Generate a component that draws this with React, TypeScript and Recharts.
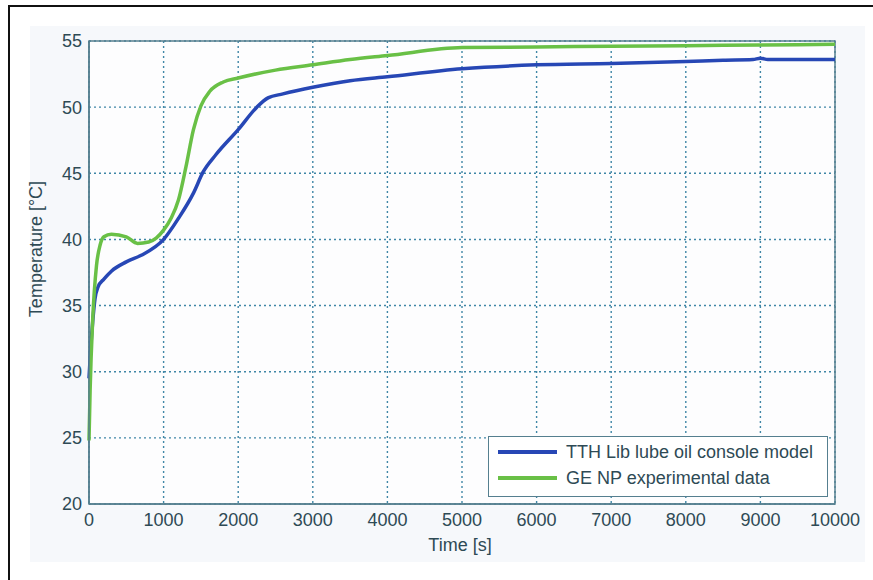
import React from 'react';
import {
  LineChart,
  Line,
  XAxis,
  YAxis,
  CartesianGrid,
  ReferenceArea,
  Legend,
  Label,
} from 'recharts';

// ========================================
// DATA
// ========================================

const xTicks = [0, 1000, 2000, 3000, 4000, 5000, 6000, 7000, 8000, 9000, 10000];
const yTicks = [20, 25, 30, 35, 40, 45, 50, 55];
const seriesNames = ['TTH Lib lube oil console model', 'GE NP experimental data'];

// TTH Lib lube oil console model
const modelTime = [
  0, 20, 50, 80, 120, 200, 300, 500, 700, 1000, 1200, 1400, 1530, 1700, 2000,
  2250, 2400, 2600, 3000, 3500, 4000, 5000, 6000, 7000, 8000, 8500, 8900, 9000,
  9100, 10000,
];
const modelTemp = [
  29.5, 31.5, 33.8, 35.5, 36.4, 37.0, 37.6, 38.3, 38.8, 40.0, 41.6, 43.5, 45.1,
  46.4, 48.3, 50.0, 50.7, 51.0, 51.5, 52.0, 52.3, 52.9, 53.2, 53.3, 53.45, 53.55,
  53.6, 53.7, 53.6, 53.6,
];

// GE NP experimental data
const expTime = [
  0, 15, 50, 100, 150, 200, 300, 500, 650, 800, 900, 1000, 1100, 1200, 1300,
  1400, 1500, 1620, 1800, 2000, 2500, 3000, 3500, 4000, 5000, 6000, 7000, 8000,
  9000, 10000,
];
const expTemp = [
  24.8, 28.6, 34.0, 38.0, 39.6, 40.2, 40.4, 40.2, 39.7, 39.8, 40.1, 40.7, 41.6,
  43.0, 45.5, 48.3, 50.1, 51.2, 51.9, 52.2, 52.8, 53.2, 53.6, 53.9, 54.5, 54.55,
  54.6, 54.65, 54.7, 54.75,
];

const modelData = modelTime.map((t, i) => ({ t, v: modelTemp[i] }));
const expData = expTime.map((t, i) => ({ t, v: expTemp[i] }));

// ========================================
// STYLE
// ========================================

const FONT = '"Liberation Sans", Arial, sans-serif';
const BLUE = '#2747b5';
const GREEN = '#69c046';
const AXIS = '#557f8f';
const GRID = '#3f86a6';
const TEXT = '#2e4a55';

const tickStyle = { fontSize: 18, fill: TEXT, fontFamily: FONT };

function LegendBox(props: any) {
  const items = [...(props.payload || [])].sort(
    (a: any, b: any) => seriesNames.indexOf(a.value) - seriesNames.indexOf(b.value)
  );
  return (
    <div
      style={{
        position: 'relative',
        width: 340,
        height: 61,
        boxSizing: 'border-box',
        border: `1.5px solid ${AXIS}`,
        background: '#fff',
        fontFamily: FONT,
      }}
    >
      {items.map((item: any, i: number) => (
        <div
          key={item.value}
          style={{
            position: 'absolute',
            left: 9,
            top: 15 + i * 26 - 11,
            height: 22,
            display: 'flex',
            alignItems: 'center',
          }}
        >
          <div style={{ width: 59, height: 4, background: item.color }} />
          <span style={{ marginLeft: 9, fontSize: 18, color: TEXT, whiteSpace: 'nowrap' }}>
            {item.value}
          </span>
        </div>
      ))}
    </div>
  );
}

export default function App() {
  return (
    <div style={{ position: 'absolute', left: 0, top: 0, width: 873, height: 580 }}>
      <div style={{ position: 'absolute', left: 8, top: 5, width: 2, height: 575, background: '#111' }} />
      <div style={{ position: 'absolute', left: 8, top: 5, width: 865, height: 2, background: '#111' }} />
      <div style={{ position: 'absolute', left: 30, top: 26, width: 835, height: 536, background: '#f6f8fb' }} />
      <div style={{ position: 'absolute', left: 0, top: 0 }}>
        <LineChart
          width={873}
          height={580}
          margin={{ top: 41, right: 38, bottom: 26, left: 29 }}
        >
          <CartesianGrid
            fill="#fdfdfe"
            stroke={GRID}
            strokeWidth={1.4}
            strokeDasharray="2 3"
            horizontalValues={yTicks}
            verticalValues={xTicks}
          />
          <XAxis
            dataKey="t"
            type="number"
            domain={[0, 10000]}
            ticks={xTicks}
            interval={0}
            height={50}
            tickSize={0}
            tickMargin={9}
            tick={tickStyle}
            stroke={AXIS}
            strokeWidth={1.5}
            allowDuplicatedCategory={false}
          >
            <Label
              content={() => (
                <text x={460} y={551} textAnchor="middle" fontSize={18} fill={TEXT} fontFamily={FONT}>
                  Time [s]
                </text>
              )}
            />
          </XAxis>
          <YAxis
            type="number"
            domain={[20, 55]}
            ticks={yTicks}
            interval={0}
            width={60}
            tickSize={0}
            tickMargin={7}
            tick={tickStyle}
            stroke={AXIS}
            strokeWidth={1.5}
          >
            <Label
              content={() => (
                <text
                  x={42}
                  y={249}
                  textAnchor="middle"
                  fontSize={18}
                  fill={TEXT}
                  fontFamily={FONT}
                  transform="rotate(-90 42 249)"
                >
                  Temperature [°C]
                </text>
              )}
            />
          </YAxis>
          <ReferenceArea
            x1={0}
            x2={10000}
            y1={20}
            y2={55}
            fill="none"
            stroke={AXIS}
            strokeWidth={1.5}
            ifOverflow="visible"
          />
          <Line
            data={modelData}
            dataKey="v"
            name={seriesNames[0]}
            type="monotone"
            stroke={BLUE}
            strokeWidth={3.5}
            dot={false}
            isAnimationActive={false}
          />
          <Line
            data={expData}
            dataKey="v"
            name={seriesNames[1]}
            type="monotone"
            stroke={GREEN}
            strokeWidth={3.5}
            dot={false}
            isAnimationActive={false}
          />
          <Legend
            layout="horizontal"
            verticalAlign="middle"
            align="center"
            content={<LegendBox />}
            wrapperStyle={{ left: 488, top: 436, width: 340, height: 61 }}
          />
        </LineChart>
      </div>
    </div>
  );
}
